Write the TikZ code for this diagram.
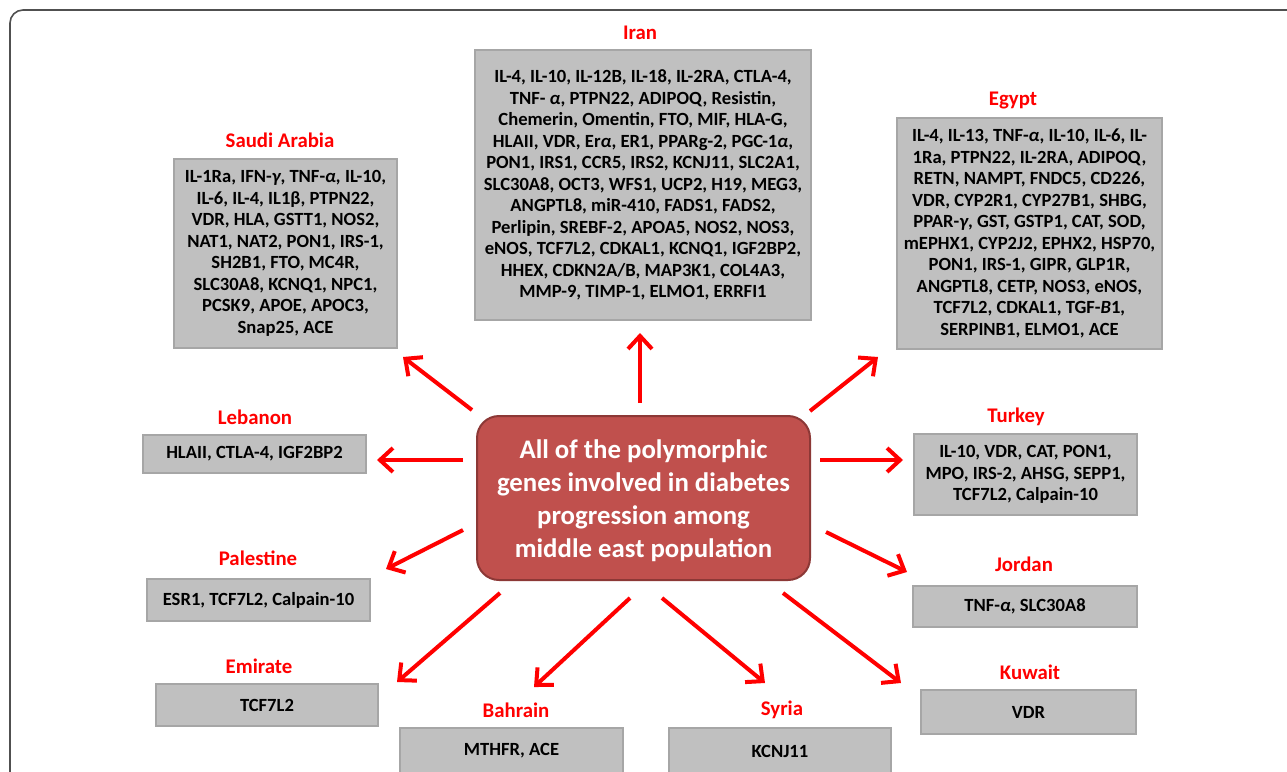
\documentclass[tikz,border=0pt]{standalone}
\usepackage{fontspec}
\setmainfont{Carlito}
\usetikzlibrary{arrows.meta}
\definecolor{boxfill}{HTML}{C0C0C0}
\definecolor{boxline}{HTML}{A6A6A6}
\definecolor{hubfill}{HTML}{C0504D}
\definecolor{hubline}{HTML}{8C3836}
\definecolor{framec}{HTML}{505050}
\tikzset{
  genebox/.style={draw=boxline, line width=2pt, fill=boxfill, align=center, inner sep=0pt,
    font=\fontsize{18.6}{21.5}\selectfont\bfseries, text=black},
  country/.style={text=red, font=\fontsize{20.8}{22}\selectfont\bfseries, inner sep=0pt},
  hub/.style={draw=hubline, line width=2pt, fill=hubfill, rounded corners=22pt, align=center,
    text=white, font=\fontsize{26.8}{33}\selectfont\bfseries, inner sep=0pt},
  arr/.style={draw=red, line width=4pt, -{Straight Barb[length=13pt,width=24pt,line width=4pt]}}
}
\begin{document}
\begin{tikzpicture}[x=1pt,y=-1pt]
\useasboundingbox (0,0) rectangle (1287,771);
% frame
\draw[framec, line width=1.6pt, rounded corners=13pt] (10,790) -- (10,10) -- (1300,10);

% hub
\node[hub, minimum width=333pt, minimum height=164pt] (hub) at (643.5,498) {};
\node[text=white, font=\fontsize{26.8}{33}\selectfont\bfseries, align=center, inner sep=0pt] (hubtext) at (643.5,501)
 {All of the polymorphic\\genes involved in diabetes\\progression among\\middle east population};

% boxes
\node[genebox, minimum width=336pt, minimum height=270pt] (iran) at (643,185)
 {IL-4, IL-10, IL-12B, IL-18, IL-2RA, CTLA-4,\\
  TNF- \textit{α}, PTPN22, ADIPOQ, Resistin,\\
  Chemerin, Omentin, FTO, MIF, HLA-G,\\
  HLAII, VDR, Er\textit{α}, ER1, PPARg-2, PGC-1\textit{α},\\
  PON1, IRS1, CCR5, IRS2, KCNJ11, SLC2A1,\\
  SLC30A8, OCT3, WFS1, UCP2, H19, MEG3,\\
  ANGPTL8, miR-410, FADS1, FADS2,\\
  Perlipin, SREBF-2, APOA5, NOS2, NOS3,\\
  eNOS, TCF7L2, CDKAL1, KCNQ1, IGF2BP2,\\
  HHEX, CDKN2A/B, MAP3K1, COL4A3,\\
  MMP-9, TIMP-1, ELMO1, ERRFI1};
\node[country] (iranl) at (640,33) {Iran};

\node[genebox, minimum width=223pt, minimum height=189pt] (saudi) at (285.5,253.5)
 {IL-1Ra, IFN-\textit{γ}, TNF-\textit{α,} IL-10,\\
  IL-6, IL-4, IL1β, PTPN22,\\
  VDR, HLA, GSTT1, NOS2,\\
  NAT1, NAT2, PON1, IRS-1,\\
  SH2B1, FTO, MC4R,\\
  SLC30A8, KCNQ1, NPC1,\\
  PCSK9, APOE, APOC3,\\
  Snap25, ACE};
\node[country] (saudil) at (280,140) {Saudi Arabia};

\node[genebox, minimum width=265pt, minimum height=231pt] (egypt) at (1029.5,233.5)
 {IL-4, IL-13, TNF-\textit{α}, IL-10, IL-6, IL-\\
  1Ra, PTPN22, IL-2RA, ADIPOQ,\\
  RETN, NAMPT, FNDC5, CD226,\\
  VDR, CYP2R1, CYP27B1, SHBG,\\
  PPAR-\textit{γ}, GST, GSTP1, CAT, SOD,\\
  mEPHX1, CYP2J2, EPHX2, HSP70,\\
  PON1, IRS-1, GIPR, GLP1R,\\
  ANGPTL8, CETP, NOS3, eNOS,\\
  TCF7L2, CDKAL1, TGF-\textit{B}1\textit{,}\\
  SERPINB1, ELMO1, ACE};
\node[country] (egyptl) at (1013,101) {Egypt};

\node[genebox, minimum width=223pt, minimum height=38pt] (lebanon) at (254.5,454)
 {HLAII, CTLA-4, IGF2BP2};
\node[country] (lebanonl) at (255,417) {Lebanon};

\node[genebox, minimum width=223pt, minimum height=42pt] (palestine) at (258.5,600)
 {ESR1, TCF7L2, Calpain-10};
\node[country] (palestinel) at (258,558) {Palestine};

\node[genebox, minimum width=222pt, minimum height=42pt] (emirate) at (267,705)
 {TCF7L2};
\node[country] (emiratel) at (259,666) {Emirate};

\node[genebox, minimum width=223pt, minimum height=46pt] (bahrain) at (511.5,751)
 {MTHFR, ACE};
\node[country] (bahrainl) at (516,710) {Bahrain};

\node[genebox, minimum width=222pt, minimum height=46pt] (syria) at (780,751)
 {KCNJ11};
\node[country] (syrial) at (782,710) {Syria};

\node[genebox, minimum width=215pt, minimum height=44pt] (kuwait) at (1028.5,712)
 {VDR};
\node[country] (kuwaitl) at (1030,672) {Kuwait};

\node[genebox, minimum width=224pt, minimum height=41pt] (jordan) at (1025,606.5)
 {TNF-\textit{α}, SLC30A8};
\node[country] (jordanl) at (1024,564) {Jordan};

\node[genebox, minimum width=223pt, minimum height=81pt] (turkey) at (1025.5,474.5)
 {IL-10, VDR, CAT, PON1,\\
  MPO, IRS-2, AHSG, SEPP1,\\
  TCF7L2, Calpain-10};
\node[country] (turkeyl) at (1016,417) {Turkey};

% arrow ends
\coordinate (t-iran) at (640,403);      \coordinate (h-iran) at (640,333);
\coordinate (t-saudi) at (472,410);     \coordinate (h-saudi) at (403,357);
\coordinate (t-egypt) at (810,411);     \coordinate (h-egypt) at (878,357);
\coordinate (t-lebanon) at (463,460);   \coordinate (h-lebanon) at (377,460);
\coordinate (t-turkey) at (820,460);    \coordinate (h-turkey) at (903,460);
\coordinate (t-palestine) at (463,530); \coordinate (h-palestine) at (386,569);
\coordinate (t-jordan) at (826,532);    \coordinate (h-jordan) at (907,572);
\coordinate (t-emirate) at (500,593);   \coordinate (h-emirate) at (397,682);
\coordinate (t-bahrain) at (630,598);   \coordinate (h-bahrain) at (534,687);
\coordinate (t-syria) at (662,598);     \coordinate (h-syria) at (765,683);
\coordinate (t-kuwait) at (783,593);    \coordinate (h-kuwait) at (901,683);

\draw[arr] (t-iran) -- (h-iran);
\draw[arr] (t-saudi) -- (h-saudi);
\draw[arr] (t-egypt) -- (h-egypt);
\draw[arr] (t-lebanon) -- (h-lebanon);
\draw[arr] (t-turkey) -- (h-turkey);
\draw[arr] (t-palestine) -- (h-palestine);
\draw[arr] (t-jordan) -- (h-jordan);
\draw[arr] (t-emirate) -- (h-emirate);
\draw[arr] (t-bahrain) -- (h-bahrain);
\draw[arr] (t-syria) -- (h-syria);
\draw[arr] (t-kuwait) -- (h-kuwait);
\end{tikzpicture}
\end{document}
